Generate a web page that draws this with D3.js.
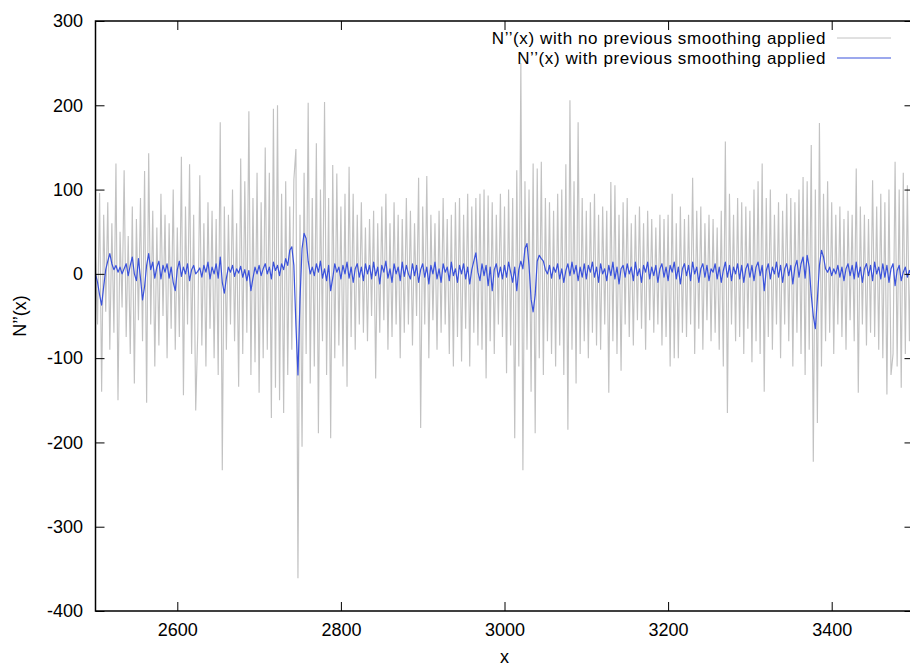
<!DOCTYPE html>
<html>
<head>
<meta charset="utf-8">
<script src="https://cdn.jsdelivr.net/npm/d3@7"></script>
<style>
  body { margin: 0; background: #fff; }
  svg { display: block; font-family: "Liberation Sans", Arial, Helvetica, sans-serif; }
</style>
</head>
<body>
<script>
// x grid: one sample every 2.5 units from 2500 to 3500
const xStart = 2500;
const xStep = 2.5;

// N''(x) without smoothing (grey)
const rawValues = [
  20, -60, 96, -140, 70, -45, 85, -90, 60, -70,
  131, -150, 50, -40, 123, -75, 45, -95, 80, -130,
  65, -55, 90, -80, 122, -153, 143, -60, 75, -110,
  55, -85, 95, -50, 70, -100, 60, -65, 100, -90,
  55, -75, 139, -144, 80, -60, 130, -95, 70, -162,
  -70, 117, -85, 60, -110, 85, -65, 75, -100, 65,
  -120, 180, -233, 80, -90, 70, -60, 100, -80, 60,
  -134, 137, -95, 110, -70, 193, -120, 90, -105, 120,
  -141, 85, -100, 150, -90, 120, -171, 196, -135, 200,
  -150, 95, -165, 110, -120, 80, -90, 112, 148, -361,
  70, -205, 120, -95, 203, -130, 90, -110, 155, -189,
  100, -80, 204, -120, 90, -195, 129, -100, 119, -85,
  80, -110, 95, -134, 127, -75, 95, -90, 70, -60,
  85, -70, 55, -80, 65, -50, 75, -124, 60, -70,
  80, -55, 95, -90, 60, -75, 85, -60, 70, -100,
  65, -70, 90, -60, 75, -85, 60, -50, 114, -183,
  80, -60, 116, -100, 70, -55, 60, -90, 75, -70,
  90, -60, 65, -95, 70, -110, 85, -75, 90, -104,
  70, -65, 95, -110, 80, -70, 90, -85, 95, -90,
  100, -124, 93, -80, 85, -95, 70, -60, 95, -75,
  80, -118, 100, -85, 90, -195, 123, -110, 250, -233,
  110, -90, 100, -140, 131, -189, 125, -100, 133, -120,
  90, -80, 85, -95, 75, -110, 95, -85, 100, -120,
  130, -185, 206, -90, 110, -130, 180, -95, 90, -80,
  75, -100, 85, -70, 95, -85, 70, -90, 80, -60,
  75, -141, 109, -80, 105, -95, 70, -115, 85, -60,
  90, -75, 60, -85, 70, -55, 80, -65, 60, -90,
  75, -55, 65, -70, 55, -60, 70, -85, 65, -75,
  70, -110, 95, -100, 60, -100, 80, -70, 65, -75,
  70, -60, 114, -95, 75, -65, 80, -90, 60, -55,
  70, -80, 65, -70, 55, -90, 75, -110, 157, -165,
  95, -60, 70, -80, 90, -75, 85, -95, 80, -65,
  75, -105, 100, -80, 110, -95, 131, -140, 90, -75,
  100, -90, 70, -60, 85, -100, 75, -60, 95, -80,
  90, -110, 85, -70, 100, -95, 115, -120, 110, -90,
  153, -223, 100, -177, 179, -110, 95, -80, 110, -70,
  85, -95, 70, -60, 80, -75, 65, -90, 75, -55,
  70, -80, 125, -141, 80, -60, 70, -85, 65, -70,
  111, -75, 80, -90, 95, -100, 85, -143, 100, -120,
  -95, 133, -110, 100, -135, 120, -95, 105, -80, 75,
  -40
];

// N''(x) with previous smoothing (blue)
const smoothValues = [
  0, -10, -25, -37, -15, 5, 15, 24, 12, 5,
  10, 2, 8, 0, 6, 12, -2, 10, 20, 0,
  -8, 18, -5, -31, -15, 10, 24, 5, 14, -5,
  8, 15, -6, 10, 2, 12, -5, 8, -10, -20,
  5, 15, -3, 8, 0, 12, -8, 5, 10, 0,
  3, 7, -4, 10, 2, 14, -6, 8, 0, 12,
  -5, 20, -10, -23, -5, 8, 2, 10, -3, 6,
  1, 9, -4, 5, -8, 4, -20, -5, 8, 0,
  10, -2, 6, 12, 0, 8, -6, 14, 4, 10,
  -2, 12, 5, 18, 10, 28, 32, 10, -60, -120,
  -30, 30, 48, 42, 15, 0, 8, -2, 12, 2,
  15, -5, 6, -8, 10, -20, -5, 12, 2, 8,
  -6, 10, 0, 14, -5, 8, -10, 6, 12, -4,
  8, -8, 12, 0, 10, -6, 14, -2, 8, -12,
  10, 2, 15, -5, 6, -10, 12, 0, 8, -8,
  14, -3, 10, 0, -6, 12, -2, 10, -10, 5,
  12, -4, 8, -12, 10, 0, 14, -6, 6, -10,
  12, 2, 8, -8, 14, -2, 6, -10, 10, 0,
  12, -6, 8, -12, 5, 15, 25, 2, -8, 12,
  -2, 10, -14, 8, -20, 5, 12, -4, 8, -6,
  10, -4, 14, 2, -10, 8, -20, 5, 15, 6,
  30, 36, 10, -30, -45, -25, 15, 22, 18, 15,
  5, 0, 10, -5, 8, 2, 12, -6, 6, -10,
  4, 12, -2, 14, 0, 10, -8, 8, -4, 12,
  -6, 10, 2, 14, -4, 8, -10, 12, 0, 6,
  -8, 10, -2, 14, -6, 8, -12, 6, 10, -4,
  12, 0, 8, -8, 14, -2, 6, -10, 10, 2,
  14, -6, 8, -2, 10, -10, 6, 12, -4, 8,
  -8, 10, 2, 14, -6, 8, -12, 6, 12, -2,
  10, -8, 14, 0, 8, -10, 6, 12, -4, 10,
  -8, 6, 2, 12, -6, 8, -10, 4, 14, -4,
  10, -8, 8, 0, 12, -6, 10, -10, 6, 12,
  -4, 10, -8, 8, 14, -2, 10, -20, 4, 12,
  -6, 8, 0, 14, -4, 10, -10, 6, 12, -2,
  10, -12, 8, 16, -4, 12, 20, -5, 22, 8,
  -25, -50, -65, -30, 10, 28, 20, 6, 2, 8,
  -2, 6, 0, 10, -4, 8, -8, 6, 12, -2,
  10, -6, 14, -4, 8, -10, 6, 12, -2, 10,
  -8, 14, 0, 8, -6, 12, -4, 10, -10, 6,
  12, -14, 4, 10, -8, 2, 8, -4, 4, -2,
  -2
];

const xTicks = [2600, 2800, 3000, 3200, 3400];
const yTicks = [-400, -300, -200, -100, 0, 100, 200, 300];
const seriesLabels = ["N\u2019\u2019(x) with no previous smoothing applied", "N\u2019\u2019(x) with previous smoothing applied"];
const seriesColors = ["#c2c2c2", "#3a52dc"];

const width = 910;
const height = 668;
const plotLeft = 95.5, plotRight = 913.5, plotTop = 21, plotBottom = 611;

const svg = d3.select("body").append("svg").attr("width", width).attr("height", height);

const xScale = d3.scaleLinear().domain([2500, 3500]).range([plotLeft, plotRight]);
const yScale = d3.scaleLinear().domain([-400, 300]).range([plotBottom, plotTop]);

svg.append("clipPath").attr("id", "plot")
  .append("rect").attr("x", plotLeft).attr("y", plotTop)
  .attr("width", plotRight - plotLeft).attr("height", plotBottom - plotTop);

const line = d3.line()
  .x((d, i) => xScale(xStart + i * xStep))
  .y((d) => yScale(d));

svg.append("path")
  .datum(rawValues)
  .attr("clip-path", "url(#plot)")
  .attr("fill", "none")
  .attr("stroke", seriesColors[0])
  .attr("stroke-width", 1.15)
  .attr("d", line);

svg.append("path")
  .datum(smoothValues)
  .attr("clip-path", "url(#plot)")
  .attr("fill", "none")
  .attr("stroke", seriesColors[1])
  .attr("stroke-width", 1.2)
  .attr("stroke-linejoin", "round")
  .attr("d", line);

// axes, ticks point inward like gnuplot
const fontSize = 18;
const plain = (d) => String(d);
function styleAxis(g) {
  g.select(".domain").remove();
  g.selectAll(".tick line").attr("stroke", "#000").attr("stroke-width", 1);
  g.selectAll(".tick text").attr("fill", "#000").style("font-size", fontSize + "px");
}

svg.append("g").attr("transform", `translate(0,${plotBottom})`)
  .call(d3.axisBottom(xScale).tickValues(xTicks).tickSize(-9).tickPadding(12).tickFormat(plain))
  .call(styleAxis);
svg.append("g").attr("transform", `translate(0,${plotTop})`)
  .call(d3.axisTop(xScale).tickValues(xTicks).tickSize(-9).tickFormat(""))
  .call(styleAxis);
svg.append("g").attr("transform", `translate(${plotLeft},0)`)
  .call(d3.axisLeft(yScale).tickValues(yTicks).tickSize(-9).tickPadding(12.5).tickFormat(plain))
  .call(styleAxis);
svg.append("g").attr("transform", `translate(${plotRight},0)`)
  .call(d3.axisRight(yScale).tickValues(yTicks).tickSize(-9).tickFormat(""))
  .call(styleAxis);

svg.append("rect")
  .attr("x", plotLeft).attr("y", plotTop)
  .attr("width", plotRight - plotLeft).attr("height", plotBottom - plotTop)
  .attr("fill", "none").attr("stroke", "#000").attr("stroke-width", 1.5);

// axis titles
svg.append("text")
  .attr("x", (plotLeft + plotRight) / 2).attr("y", 663)
  .attr("text-anchor", "middle").style("font-size", fontSize + "px")
  .text("x");
svg.append("text")
  .attr("transform", `translate(26,${(plotTop + plotBottom) / 2}) rotate(-90)`)
  .attr("text-anchor", "middle").style("font-size", fontSize + "px")
  .text("N\u2019\u2019(x)");

// legend
seriesLabels.forEach(function(label, i) {
  const y = 38 + i * 20;
  svg.append("text")
    .attr("x", 826).attr("y", y + 6)
    .attr("text-anchor", "end")
    .style("font-size", "17px")
    .style("letter-spacing", "0.6px")
    .text(label);
  svg.append("line")
    .attr("x1", 837).attr("x2", 891).attr("y1", y).attr("y2", y)
    .attr("stroke", seriesColors[i]).attr("stroke-width", i === 0 ? 1 : 1.2);
});
</script>
</body>
</html>
